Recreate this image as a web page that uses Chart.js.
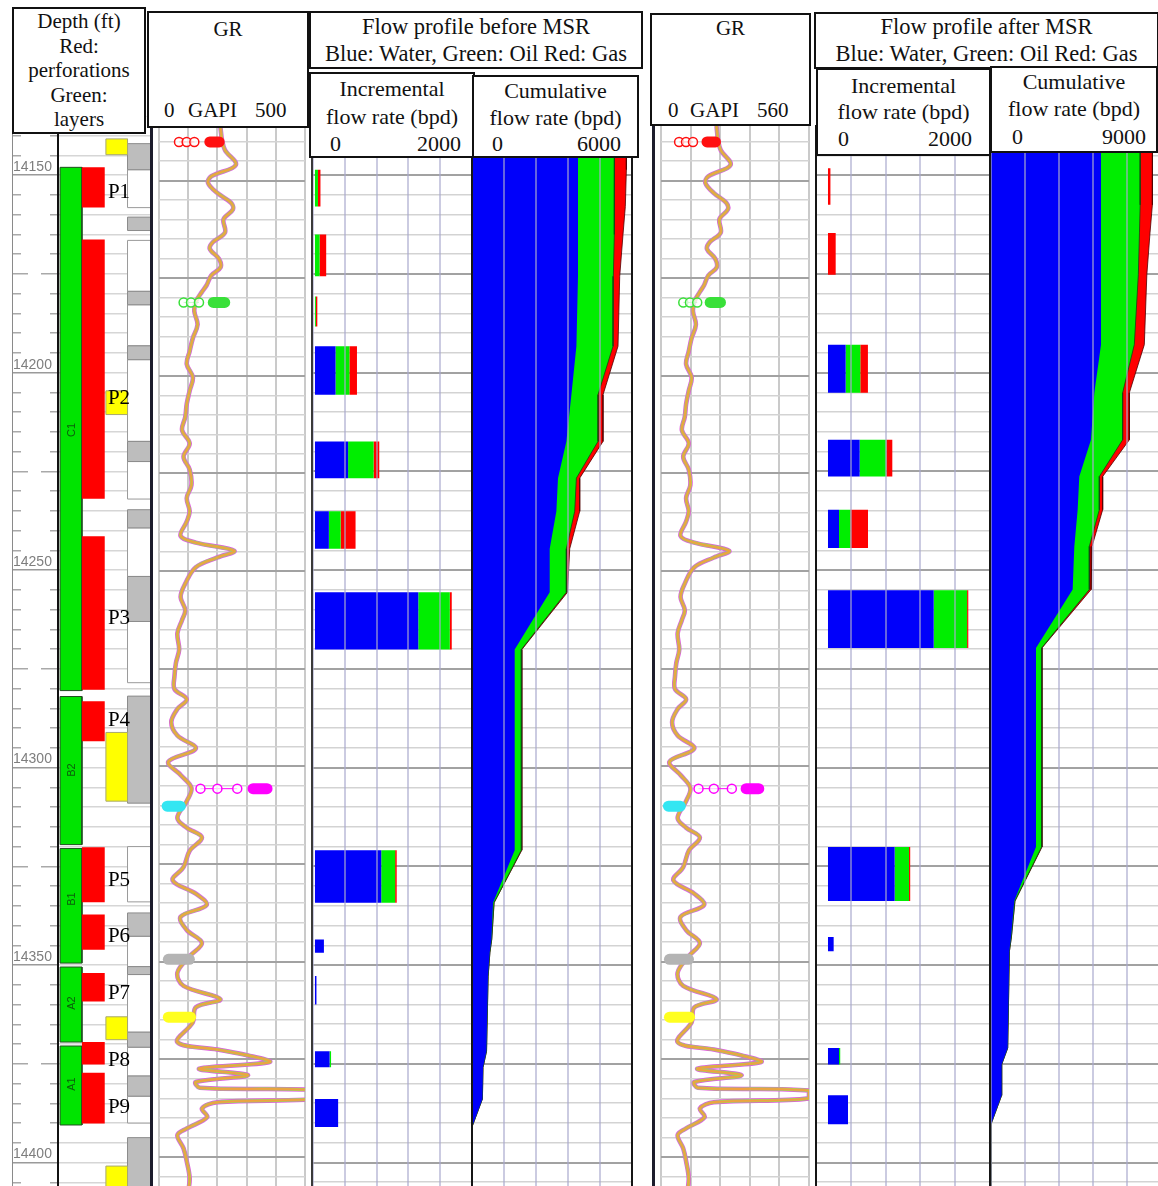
<!DOCTYPE html>
<html>
<head>
<meta charset="utf-8">
<title>Flow profile before and after MSR</title>
<script src="https://cdn.jsdelivr.net/npm/chart.js@4.4.1/dist/chart.umd.min.js"></script>
<style>
html,body{margin:0;padding:0;background:#fff;}
body{position:relative;width:1158px;height:1186px;overflow:hidden;font-family:"Liberation Serif","Times New Roman",serif;color:#111;}
canvas{position:absolute;}
.vline{position:absolute;bottom:0;}
.box{position:absolute;box-sizing:border-box;border:2px solid #111;background:#fff;text-align:center;white-space:nowrap;color:#111;}
.box .tk{position:absolute;line-height:24px;}
.plabel{position:absolute;font-family:"Liberation Serif","Times New Roman",serif;font-size:21px;line-height:22px;color:#000;transform:translateY(-50%);}
.llabel{position:absolute;font-family:"Liberation Sans",Arial,sans-serif;font-size:11px;line-height:11px;color:#0b5e0b;transform:translate(-50%,-50%) rotate(-90deg);}
</style>
</head>
<body>
<div id="plots"></div>
<div id="lines"></div>
<div id="labels"></div>

<div class="box" style="left:12px;top:7px;width:134px;height:127px;font-size:21px;line-height:24.5px;">Depth (ft)<br>Red:<br>perforations<br>Green:<br>layers</div>

<div class="box" style="left:147px;top:11px;width:162px;height:117px;font-size:21px;">
  <div style="line-height:28px;padding-top:2px;">GR</div>
  <span class="tk" style="left:15px;top:85px;">0</span>
  <span class="tk" style="left:39px;top:85px;">GAPI</span>
  <span class="tk" style="left:106px;top:85px;">500</span>
</div>

<div class="box" style="left:309px;top:11px;width:334px;height:58px;font-size:22.5px;line-height:27px;">Flow profile before MSR<br>Blue: Water, Green: Oil Red: Gas</div>

<div class="box" style="left:309px;top:72px;width:166px;height:86px;font-size:22px;line-height:27.5px;padding-top:1px;">Incremental<br>flow rate (bpd)
  <span class="tk" style="left:19px;top:58px;">0</span>
  <span class="tk" style="right:12px;top:58px;">2000</span>
</div>

<div class="box" style="left:472px;top:75px;width:167px;height:83px;font-size:22px;line-height:27px;">Cumulative<br>flow rate (bpd)
  <span class="tk" style="left:18px;top:55px;">0</span>
  <span class="tk" style="right:16px;top:55px;">6000</span>
</div>

<div class="box" style="left:650px;top:13px;width:161px;height:113px;font-size:21px;">
  <div style="line-height:26px;">GR</div>
  <span class="tk" style="left:16px;top:83px;">0</span>
  <span class="tk" style="left:38px;top:83px;">GAPI</span>
  <span class="tk" style="left:105px;top:83px;">560</span>
</div>

<div class="box" style="left:814px;top:12px;width:345px;height:57px;font-size:22.5px;line-height:26.5px;">Flow profile after MSR<br>Blue: Water, Green: Oil Red: Gas</div>

<div class="box" style="left:816px;top:68px;width:175px;height:88px;font-size:22px;line-height:26px;padding-top:3px;">Incremental<br>flow rate (bpd)
  <span class="tk" style="left:20px;top:57px;">0</span>
  <span class="tk" style="right:17px;top:57px;">2000</span>
</div>

<div class="box" style="left:990px;top:66px;width:168px;height:87px;font-size:22px;line-height:27px;">Cumulative<br>flow rate (bpd)
  <span class="tk" style="left:20px;top:57px;">0</span>
  <span class="tk" style="right:10px;top:57px;">9000</span>
</div>

<script>
// ================= DATA =================
// Zones / layers (depth in ft)
const layerNames = ['C1', 'B2', 'B1', 'A2', 'A1'];
const layerTop = [14148, 14282, 14320.5, 14350.5, 14370.5];
const layerBase = [14280.5, 14319.5, 14349.5, 14369.5, 14390.5];
const layerLabelDepth = [14214.4, 14300.5, 14333.4, 14359.5, 14380];

// Perforations
const perfNames = ['P1', 'P2', 'P3', 'P4', 'P5', 'P6', 'P7', 'P8', 'P9'];
const perfTop = [14148, 14166.3, 14241.4, 14283.2, 14320.2, 14337.2, 14352, 14369.5, 14377.3];
const perfBase = [14158.2, 14231.9, 14280.3, 14293.3, 14334.1, 14346.1, 14359.2, 14375.2, 14390.1];
const perfLabelDepth = [14153.9, 14206.1, 14261.8, 14287.7, 14328.1, 14342.3, 14356.7, 14373.9, 14385.6];

// Yellow flags, gray / white blocks of the right-hand columns
const yellowTop = [14140.8, 14204.6, 14291.1, 14363.1, 14400.9];
const yellowBase = [14144.8, 14210.6, 14308.5, 14368.9, 14412];
const grayTop = [14142, 14160.6, 14179.4, 14193.2, 14217.4, 14234.7, 14251.6, 14281.9, 14336.8, 14350.4, 14367, 14378.1, 14393.7];
const grayBase = [14148.6, 14164, 14182.8, 14196.7, 14222.5, 14239.3, 14263, 14309, 14342.7, 14352.4, 14370.8, 14383.2, 14412];
const whiteTop = [14148.6, 14166.5, 14182.8, 14196.7, 14222.5, 14239.3, 14263, 14320, 14342.7, 14352.4, 14370.8, 14383.2];
const whiteBase = [14158.2, 14179.4, 14193.2, 14217.4, 14232, 14251.6, 14278.5, 14334, 14350.4, 14367, 14378.1, 14390];

// Gamma ray log (GAPI vs depth)
const grDepth = [14136, 14139.7, 14142.2, 14146, 14148.9, 14150.6, 14153.2, 14155.7, 14157.4, 14159.9, 14163.3, 14165.8, 14167.5, 14170, 14172.2, 14174.3, 14176.8, 14178.5, 14181, 14183.5, 14186.9, 14190.3, 14193.7, 14197, 14200.4, 14203.8, 14207.2, 14210.5, 14213.9, 14217.3, 14220.7, 14224, 14228, 14231.3, 14234.7, 14237.3, 14241, 14242.7, 14244.8, 14246.5, 14249, 14253.2, 14256.6, 14260, 14262.5, 14265.9, 14270.1, 14273.5, 14276.9, 14280.2, 14282.8, 14285.3, 14288.7, 14292.1, 14295.4, 14298.8, 14302.2, 14305.5, 14308.9, 14313.2, 14315.7, 14318.2, 14321.6, 14325.8, 14329.2, 14332.6, 14335.5, 14338.5, 14341.9, 14345.2, 14348.6, 14352.8, 14356.2, 14359.6, 14361.7, 14365.5, 14370.6, 14372.5, 14374, 14375.7, 14377.4, 14379.1, 14380.8, 14382.3, 14383, 14385, 14386, 14387.6, 14389.8, 14392.7, 14394.4, 14397.8, 14401.1, 14405.4, 14409];
const grValue = [210, 216, 226, 263, 179, 168, 200, 247, 253, 221, 226, 184, 174, 205, 211, 179, 163, 147, 126, 121, 132, 116, 105, 95, 116, 105, 95, 90, 79, 105, 84, 105, 111, 95, 105, 95, 74, 126, 258, 200, 126, 90, 74, 90, 79, 63, 69, 58, 53, 53, 95, 63, 42, 63, 126, 32, 74, 111, 95, 63, 95, 147, 105, 84, 47, 126, 163, 74, 95, 147, 105, 63, 84, 210, 126, 116, 63, 200, 305, 379, 137, 305, 126, 140, 560, 560, 200, 147, 165, 95, 63, 84, 95, 105, 100];

// Log station markers on the GR track
const markerDepths = [14140.1, 14181.2, 14305.7, 14310.2, 14349.4, 14364.2];
const markerCircles = [[68.5, 94.7, 121], [84.3, 109.6, 137], [142, 200, 268], [], [], []];
const markerBars = [[174, 206], [186, 225], [322, 370], [28, 73], [32, 104], [32, 108]];
const markerColors = ['#ff1010', '#39e039', '#ff00ff', '#33e6f2', '#b4b4b4', '#ffff20'];

// Incremental flow rate BEFORE MSR (bpd)
const incBeforeTop = [14148.6, 14165, 14180.7, 14193.3, 14217.4, 14235.1, 14255.6, 14320.9, 14343.5, 14352.8, 14371.8, 14383.9];
const incBeforeBase = [14157.9, 14175.6, 14188.3, 14205.6, 14226.7, 14244.6, 14270.1, 14334.2, 14346.9, 14360, 14375.9, 14391];
const incBeforeWater = [0, 0, 0, 262, 422, 177, 1316, 844, 114, 19, 186, 295];
const incBeforeOil = [38, 59, 12, 177, 325, 150, 401, 177, 0, 0, 19, 0];
const incBeforeGas = [32, 84, 18, 96, 72, 190, 25, 20, 0, 0, 0, 0];

// Cumulative flow rate BEFORE MSR (bpd): water, water+oil, total
const cumBeforeDepth = [14130, 14148.6, 14157.9, 14165, 14175.6, 14193.3, 14205.6, 14217.4, 14226.7, 14235.1, 14244.6, 14255.6, 14270.1, 14320.9, 14334.2, 14343.5, 14346.9, 14352.8, 14371.8, 14375.9, 14383.9, 14391, 14420];
const cumBeforeWater = [3975, 3975, 3975, 3975, 3975, 3915, 3727, 3539, 3225, 3164, 2914, 2914, 1601, 1601, 790, 727, 664, 600, 540, 413, 390, 0, 0];
const cumBeforeWaterOil = [5351, 5351, 5330, 5330, 5300, 5288, 4725, 4725, 3914, 3851, 3539, 3539, 1851, 1851, 826, 740, 670, 605, 545, 413, 390, 0, 0];
const cumBeforeTotal = [5789, 5789, 5750, 5663, 5539, 5475, 4913, 4913, 4039, 4039, 3664, 3580, 1870, 1870, 830, 740, 670, 605, 545, 413, 390, 0, 0];

// Incremental flow rate AFTER MSR (bpd)
const incAfterTop = [14148.2, 14164.6, 14192.9, 14217, 14234.7, 14255.1, 14320.1, 14342.9, 14371, 14383];
const incAfterBase = [14157.5, 14175.2, 14205.1, 14226.3, 14244.4, 14269.7, 14333.8, 14346.5, 14375.2, 14390.3];
const incAfterWater = [0, 0, 218, 391, 136, 1305, 823, 70, 136, 247];
const incAfterOil = [0, 0, 181, 329, 140, 412, 177, 0, 15, 0];
const incAfterGas = [30, 95, 94, 74, 218, 15, 15, 0, 0, 0];

// Cumulative flow rate AFTER MSR (bpd)
const cumAfterDepth = [14130, 14148.2, 14157.5, 14164.6, 14175.2, 14192.9, 14205.1, 14217, 14226.3, 14234.7, 14244, 14254.9, 14269.7, 14320.1, 14333.8, 14342.9, 14346.5, 14371, 14375.2, 14383, 14390.3, 14420];
const cumAfterWater = [5824, 5824, 5824, 5824, 5824, 5824, 5470, 5294, 4675, 4588, 4411, 4323, 2382, 2382, 1234, 1059, 970, 882, 562, 562, 0, 0];
const cumAfterWaterOil = [7904, 7904, 7890, 7860, 7800, 7587, 6968, 6968, 5735, 5735, 5206, 5206, 2680, 2680, 1265, 1080, 975, 885, 562, 562, 0, 0];
const cumAfterTotal = [8558, 8558, 8530, 8418, 8250, 8117, 7324, 7324, 5912, 5912, 5347, 5300, 2700, 2700, 1270, 1080, 975, 885, 562, 562, 0, 0];

// ================= STYLE / LAYOUT =================
const DEPTH_MIN = 14135, DEPTH_MAX = 14410;
const PLOT_TOP = 116, PLOT_H = 1086;
const WATER = '#0000fa', OIL = '#00ee00', GAS = '#ff0000';
const LANE = {layer: [0.09, 1.03], perf: [1.03, 2.01], yellow: [2.06, 2.99], gray: [2.99, 3.98]};
const NONE = 'rgba(0,0,0,0)';

function isMajor(ctx) { return ctx.tick && Math.abs(ctx.tick.value % 25) < 0.01; }

function rect(x0, x1, d0, d1, fillColor, lineColor, lw) {
  return {
    data: [{x: x0, y: d0}, {x: x1, y: d0}, {x: x1, y: d1}, {x: x0, y: d1}, {x: x0, y: d0}],
    showLine: true, fill: 'shape', backgroundColor: fillColor,
    borderColor: lineColor || NONE, borderWidth: lw || 1,
    pointRadius: 0, pointHoverRadius: 0, tension: 0
  };
}

function area(depths, vals, color, edge) {
  const pts = depths.map((d, i) => ({x: vals[i], y: d}));
  pts.push({x: 0, y: depths[depths.length - 1]}, {x: 0, y: depths[0]}, {x: vals[0], y: depths[0]});
  return {data: pts, showLine: true, fill: 'shape', backgroundColor: color, borderColor: edge || NONE,
          borderWidth: 1, pointRadius: 0, tension: 0};
}

function depthScale() {
  return {
    type: 'linear', reverse: true, min: DEPTH_MIN, max: DEPTH_MAX, position: 'left',
    afterFit: s => { s.width = 0; s.paddingTop = 0; s.paddingBottom = 0; },
    border: {display: false},
    ticks: {display: false, stepSize: 5, autoSkip: false, includeBounds: false},
    grid: {drawTicks: false, color: ctx => isMajor(ctx) ? '#a2a2a2' : '#d3d3d3',
           lineWidth: ctx => isMajor(ctx) ? 2 : 1.6}
  };
}

function valueScale(min, max, step, color, onTop) {
  return {
    type: 'linear', min: min, max: max, position: 'bottom',
    afterFit: s => { s.height = 0; s.paddingLeft = 0; s.paddingRight = 0; },
    border: {display: false},
    ticks: {display: false, stepSize: step, autoSkip: false, includeBounds: false},
    grid: {drawTicks: false, color: color, lineWidth: 2, z: onTop ? 1 : -1}
  };
}

function mkChart(left, width, datasets, xCfg, yCfg) {
  const c = document.createElement('canvas');
  c.width = width; c.height = PLOT_H;
  c.style.left = left + 'px'; c.style.top = PLOT_TOP + 'px';
  c.style.width = width + 'px'; c.style.height = PLOT_H + 'px';
  document.getElementById('plots').appendChild(c);
  return new Chart(c, {
    type: 'scatter',
    data: {datasets: datasets},
    options: {
      animation: false, responsive: false, devicePixelRatio: 1, events: [],
      layout: {padding: 0},
      plugins: {legend: {display: false}, tooltip: {enabled: false}},
      scales: {x: xCfg, y: yCfg}
    }
  });
}

// ---------- Depth / layer track ----------
const depthSets = [];
perfTop.forEach((t, i) => depthSets.push(rect(LANE.perf[0], LANE.perf[1], t, perfBase[i], GAS)));
layerTop.forEach((t, i) => depthSets.push(rect(LANE.layer[0], LANE.layer[1], t, layerBase[i], '#00e400', '#1f4f1f', 1)));
yellowTop.forEach((t, i) => depthSets.push(rect(LANE.yellow[0], LANE.yellow[1], t, yellowBase[i], '#ffff00', '#a8a870', 1)));
grayTop.forEach((t, i) => depthSets.push(rect(LANE.gray[0], LANE.gray[1], t, grayBase[i], '#bdbdbd', '#8c8c8c', 1)));
whiteTop.forEach((t, i) => depthSets.push(rect(LANE.gray[0], LANE.gray[1], t, whiteBase[i], '#ffffff', '#9a9a9a', 1)));

const DEPTH_LEFT = 13;
const depthChart = mkChart(DEPTH_LEFT, 138, depthSets,
  {type: 'linear', min: 0, max: 4, display: false},
  {
    type: 'linear', reverse: true, min: DEPTH_MIN, max: DEPTH_MAX, position: 'left',
    afterFit: s => { s.width = 45; s.paddingTop = 0; s.paddingBottom = 0; },
    border: {display: true, color: '#111', width: 2},
    ticks: {
      stepSize: 5, autoSkip: false, includeBounds: false, crossAlign: 'far', padding: 0,
      labelOffset: -8, color: '#7e7e7e',
      font: {family: '"Liberation Sans", Arial, sans-serif', size: 14},
      callback: v => (Math.abs(v % 50) < 0.01 ? String(v) : '')
    },
    grid: {
      drawOnChartArea: true, color: '#d6d6d6', lineWidth: 1.5,
      drawTicks: true, tickLength: 45, tickWidth: 1.5,
      tickColor: ctx => (Math.abs(ctx.tick.value % 50) < 0.01 ? '#9a9a9a' : '#a9a9a9'),
      tickBorderDash: ctx => {
        const v = ctx.tick.value;
        if (Math.abs(v % 50) < 0.01) return [];
        if (Math.abs(v % 25) < 0.01) return [15, 13, 17];
        return [8, 29, 8];
      }
    }
  });

// ---------- GR tracks ----------
function grSets() {
  const sets = [];
  markerDepths.forEach((d, i) => {
    sets.push({data: markerBars[i].map(v => ({x: v, y: d})), showLine: true, borderColor: markerColors[i],
               borderWidth: 11, borderCapStyle: 'round', pointRadius: 0, tension: 0});
    if (markerCircles[i].length) {
      sets.push({data: markerCircles[i].map(v => ({x: v, y: d})), showLine: true, borderColor: markerColors[i],
                 borderWidth: 1, pointRadius: 4.5, pointBorderWidth: 1.5, pointBorderColor: markerColors[i],
                 pointBackgroundColor: 'rgba(255,255,255,0.75)', tension: 0});
    }
  });
  const pts = grDepth.map((d, i) => ({x: grValue[i], y: d}));
  sets.push({data: pts, showLine: true, borderColor: '#f2a040', borderWidth: 1.8, pointRadius: 0, tension: 0.35});
  sets.push({data: pts, showLine: true, borderColor: '#a6cf5a', borderWidth: 3.2, pointRadius: 0, tension: 0.35});
  sets.push({data: pts, showLine: true, borderColor: '#e05ae0', borderWidth: 4.6, pointRadius: 0, tension: 0.35});
  return sets;
}
mkChart(153, 158, grSets(), valueScale(0, 500, 100, '#cacaca', false), depthScale());
mkChart(655, 160, grSets(), valueScale(0, 560, 112, '#cacaca', false), depthScale());

// ---------- Incremental flow tracks ----------
function incSets(tops, bases, w, o, g) {
  const sets = [];
  tops.forEach((t, i) => {
    const b = bases[i];
    if (w[i] > 0) sets.push(rect(0, w[i], t, b, WATER));
    if (o[i] > 0) sets.push(rect(w[i], w[i] + o[i], t, b, OIL));
    if (g[i] > 0) sets.push(rect(w[i] + o[i], w[i] + o[i] + g[i], t, b, GAS));
  });
  return sets;
}
const overGrid = 'rgba(168,168,205,0.6)';
mkChart(313, 159, incSets(incBeforeTop, incBeforeBase, incBeforeWater, incBeforeOil, incBeforeGas),
  valueScale(-25, 2000, 400, overGrid, true), depthScale());
mkChart(816, 174, incSets(incAfterTop, incAfterBase, incAfterWater, incAfterOil, incAfterGas),
  valueScale(-148, 2000, 400, overGrid, true), depthScale());

// ---------- Cumulative flow tracks ----------
mkChart(472, 160, [
  area(cumBeforeDepth, cumBeforeWater, WATER),
  area(cumBeforeDepth, cumBeforeWaterOil, OIL, 'rgba(20,70,20,0.8)'),
  area(cumBeforeDepth, cumBeforeTotal, GAS, 'rgba(80,0,0,0.8)')
], valueScale(0, 6000, 1200, overGrid, true), depthScale());
mkChart(991, 170, [
  area(cumAfterDepth, cumAfterWater, WATER),
  area(cumAfterDepth, cumAfterWaterOil, OIL, 'rgba(20,70,20,0.8)'),
  area(cumAfterDepth, cumAfterTotal, GAS, 'rgba(80,0,0,0.8)')
], valueScale(0, 9000, 1800, overGrid, true), depthScale());

// ---------- Track borders ----------
const borders = [
  {x: 12, top: 128, w: 1, c: '#8a8a8a'},
  {x: 150, top: 128, w: 3, c: '#1c1c2c'},
  {x: 311, top: 127, w: 2, c: '#3a3a3a'},
  {x: 471, top: 157, w: 2, c: '#151515'},
  {x: 631, top: 157, w: 2, c: '#151515'},
  {x: 652, top: 125, w: 3, c: '#1c1c2c'},
  {x: 815, top: 125, w: 2, c: '#151515'},
  {x: 989, top: 152, w: 2, c: '#151515'}
];
borders.forEach(b => {
  const d = document.createElement('div');
  d.className = 'vline';
  d.style.left = b.x + 'px'; d.style.top = b.top + 'px'; d.style.width = b.w + 'px'; d.style.background = b.c;
  document.getElementById('lines').appendChild(d);
});

// ---------- Text labels placed through the depth chart scales ----------
const ys = depthChart.scales.y, xs = depthChart.scales.x;
const lab = document.getElementById('labels');
perfNames.forEach((n, i) => {
  const el = document.createElement('div');
  el.className = 'plabel'; el.textContent = n;
  el.style.left = (DEPTH_LEFT + xs.getPixelForValue(LANE.yellow[0]) + 2) + 'px';
  el.style.top = (PLOT_TOP + ys.getPixelForValue(perfLabelDepth[i])) + 'px';
  lab.appendChild(el);
});
layerNames.forEach((n, i) => {
  const el = document.createElement('div');
  el.className = 'llabel'; el.textContent = n;
  el.style.left = (DEPTH_LEFT + xs.getPixelForValue((LANE.layer[0] + LANE.layer[1]) / 2)) + 'px';
  el.style.top = (PLOT_TOP + ys.getPixelForValue(layerLabelDepth[i])) + 'px';
  lab.appendChild(el);
});
</script>
</body>
</html>
